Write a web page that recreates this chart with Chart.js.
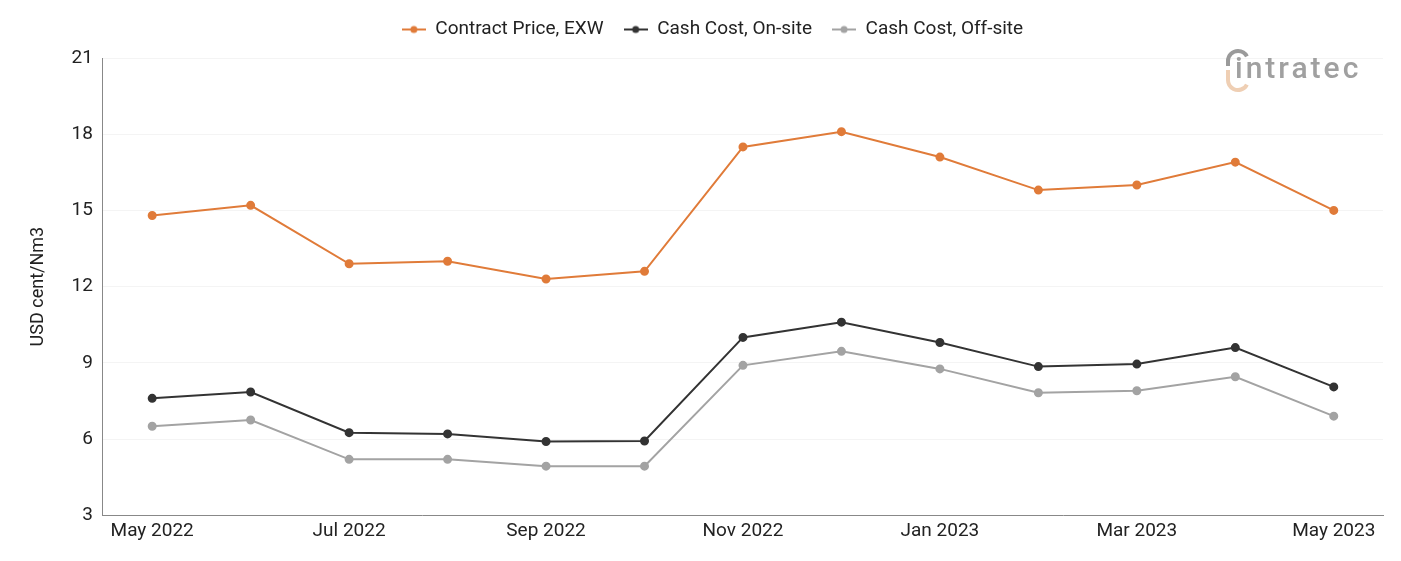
<!DOCTYPE html>
<html>
<head>
<meta charset="utf-8">
<script src="https://cdn.jsdelivr.net/npm/chart.js@4.4.1/dist/chart.umd.min.js"></script>
<style>
  html, body { margin: 0; padding: 0; background: #fff; }
  #wrap { width: 1401px; height: 561px; position: relative; }
</style>
</head>
<body>
<div id="wrap"><canvas id="main-chart"></canvas></div>
<script>
const months = ['May 2022', 'Jun 2022', 'Jul 2022', 'Aug 2022', 'Sep 2022', 'Oct 2022', 'Nov 2022',
    'Dec 2022', 'Jan 2023', 'Feb 2023', 'Mar 2023', 'Apr 2023', 'May 2023'];
const contractPrice = [14.8, 15.2, 12.9, 13.0, 12.3, 12.6, 17.5, 18.1, 17.1, 15.8, 16.0, 16.9, 15.0];
const cashOnSite = [7.6, 7.85, 6.25, 6.2, 5.9, 5.92, 10.0, 10.6, 9.8, 8.85, 8.95, 9.6, 8.05];
const cashOffSite = [6.5, 6.75, 5.2, 5.2, 4.93, 4.93, 8.9, 9.45, 8.76, 7.82, 7.9, 8.45, 6.9];
const yTicks = [3, 6, 9, 12, 15, 18, 21];

const colors = { orange: '#e07b39', dark: '#333333', grey: '#a3a3a3' };

// small legend marker: line with a dot in the middle
const makeMarker = (color) => {
    const c = document.createElement('canvas');
    c.width = 24; c.height = 10;
    const ctx = c.getContext('2d');
    ctx.strokeStyle = color; ctx.lineWidth = 2;
    ctx.beginPath(); ctx.moveTo(0, 5); ctx.lineTo(24, 5); ctx.stroke();
    ctx.fillStyle = color;
    ctx.beginPath(); ctx.arc(12, 5, 3.5, 0, Math.PI * 2); ctx.fill();
    return c;
};

// a bit more room under the legend, and nudge it right
const legendGap = {
    id: 'legendGap',
    beforeInit(chart) {
        const fit = chart.legend.fit;
        chart.legend.fit = function () { fit.call(this); this.height += 9; };
    },
    afterLayout(chart) {
        chart.legend.left += 9;
        chart.legend.right += 9;
    }
};

const logoPlugin = {
    id: 'logo',
    afterDraw(chart) {
        const ctx = chart.ctx;
        ctx.save();
        ctx.lineWidth = 4;
        ctx.strokeStyle = '#9a9a9a';
        ctx.beginPath(); ctx.arc(1238, 61, 10, Math.PI * 1.0, Math.PI * 1.85); ctx.stroke();
        ctx.beginPath(); ctx.moveTo(1228, 61); ctx.lineTo(1228, 66); ctx.stroke();
        ctx.strokeStyle = '#efcfb4';
        ctx.beginPath(); ctx.moveTo(1228, 70); ctx.lineTo(1228, 80); ctx.stroke();
        ctx.beginPath(); ctx.arc(1238, 80, 10, Math.PI * 0.15, Math.PI * 1.0); ctx.stroke();
        ctx.fillStyle = '#a0a0a0';
        ctx.font = '500 30px Roboto';
        ctx.letterSpacing = '3px';
        ctx.textBaseline = 'alphabetic';
        ctx.fillText('intratec', 1235, 78);
        ctx.restore();
    }
};

Chart.defaults.font.family = 'Roboto';
Chart.defaults.color = '#222';

new Chart(document.getElementById('main-chart').getContext('2d'), {
    type: 'line',
    data: {
        labels: months,
        datasets: [
            { label: 'Contract Price, EXW', data: contractPrice, borderColor: colors.orange, backgroundColor: colors.orange },
            { label: 'Cash Cost, On-site', data: cashOnSite, borderColor: colors.dark, backgroundColor: colors.dark },
            { label: 'Cash Cost, Off-site', data: cashOffSite, borderColor: colors.grey, backgroundColor: colors.grey },
        ].map(d => ({ ...d, borderWidth: 2, pointRadius: 3.5, pointHoverRadius: 5, tension: 0 }))
    },
    options: {
        responsive: true, maintainAspectRatio: false, animation: false,
        layout: { padding: { top: 0, right: 18, left: 24, bottom: 13 } },
        scales: {
            x: {
                offset: true,
                grid: { display: false, drawTicks: false },
                border: { color: '#888', width: 1 },
                ticks: {
                    autoSkip: false, maxRotation: 0, padding: 5,
                    font: { size: 19 }, color: '#222',
                    callback: (v, i) => (i % 2 === 0 ? months[i] : '')
                }
            },
            y: {
                min: 3, max: 21,
                afterBuildTicks: (axis) => { axis.ticks = yTicks.map(v => ({ value: v })); },
                grid: { color: '#f4f4f4', drawTicks: false },
                border: { color: '#888', width: 1 },
                ticks: { padding: 10, font: { size: 19 }, color: '#222' },
                title: { display: true, text: 'USD cent/Nm3', font: { size: 18 }, color: '#222', padding: { bottom: 12 } }
            }
        },
        plugins: {
            legend: {
                position: 'top',
                labels: {
                    usePointStyle: true, pointStyleWidth: 24, boxHeight: 10, padding: 20,
                    font: { size: 19 }, color: '#222',
                    generateLabels: (chart) => chart.data.datasets.map((ds, i) => ({
                        text: ds.label, datasetIndex: i, fontColor: '#222',
                        pointStyle: makeMarker(ds.borderColor), lineWidth: 0,
                        strokeStyle: ds.borderColor, fillStyle: ds.borderColor
                    }))
                }
            },
            tooltip: { enabled: false }
        }
    },
    plugins: [legendGap, logoPlugin]
});
</script>
</body>
</html>
